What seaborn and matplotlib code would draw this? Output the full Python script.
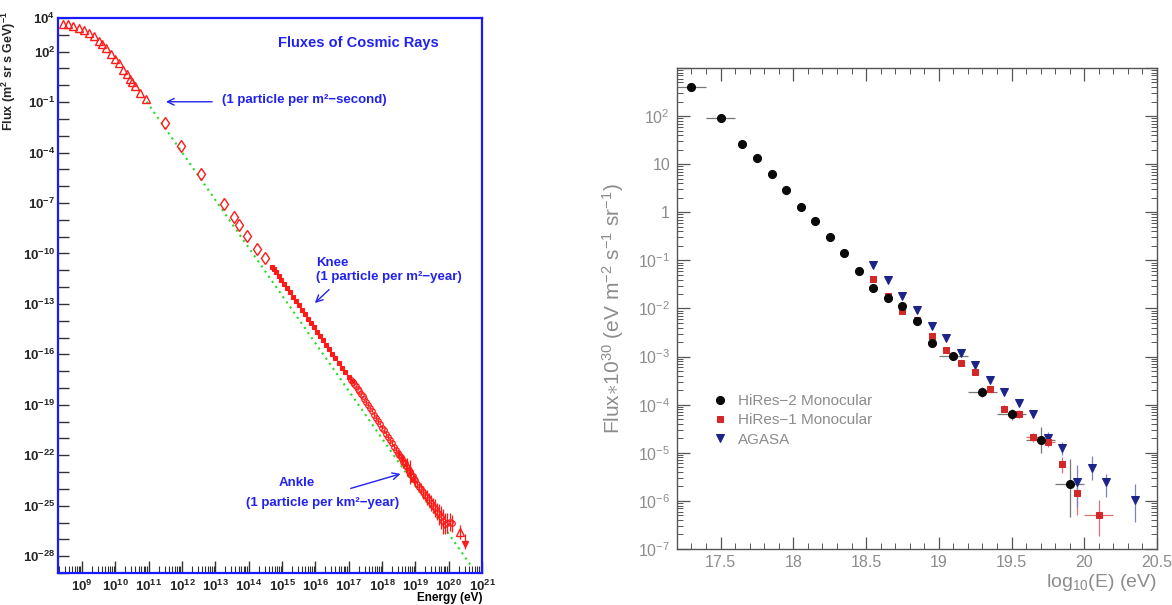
import numpy as np
import matplotlib
matplotlib.use('Agg')
import matplotlib.pyplot as plt
import matplotlib.ticker as mticker
import seaborn as sns

# ---------- left panel: all-particle spectrum, values as log10 ----------
tri_logE = [8.44, 8.59, 8.74, 8.91, 9.06, 9.21, 9.37, 9.51, 9.61, 9.72,
            9.87, 9.99, 10.11, 10.24, 10.34, 10.44, 10.51, 10.59, 10.74, 10.91]
tri_logF = [3.63, 3.63, 3.54, 3.42, 3.29, 3.13, 2.95, 2.63, 2.43, 2.20,
            1.84, 1.56, 1.30, 0.90, 0.67, 0.37, 0.17, -0.05, -0.45, -0.84]

dia_logE = [11.49, 11.97, 12.57, 13.26, 13.57, 13.72, 13.96, 14.26, 14.50]
dia_logF = [-2.27, -3.62, -5.29, -7.09, -7.83, -8.32, -8.98, -9.71, -10.30]

knee_logE = [14.70, 14.76, 14.82, 14.90, 14.98, 15.06, 15.15, 15.24, 15.33, 15.42,
             15.51, 15.60, 15.69, 15.78, 15.87, 15.96, 16.05, 16.14, 16.23, 16.32,
             16.41, 16.50, 16.60, 16.70, 16.80, 16.90, 17.00, 17.10]
knee_logF = [-10.80, -10.95, -11.12, -11.35, -11.57, -11.80, -12.06, -12.31, -12.57, -12.83,
             -13.08, -13.35, -13.60, -13.87, -14.13, -14.39, -14.65, -14.91, -15.17, -15.43,
             -15.69, -15.95, -16.23, -16.52, -16.80, -17.05, -17.33, -17.60]

uhe_logE = [17.08, 17.12, 17.17, 17.22, 17.27, 17.32, 17.37, 17.42, 17.47, 17.52,
            17.58, 17.64, 17.70, 17.76, 17.82, 17.88, 17.94, 18.00, 18.06, 18.12,
            18.18, 18.24, 18.30, 18.36, 18.42, 18.48, 18.52, 18.56, 18.60, 18.64,
            18.68, 18.72, 18.76, 18.80, 18.84, 18.88, 18.92, 18.96, 19.00, 19.06,
            19.12, 19.18, 19.24, 19.30, 19.36, 19.42, 19.48, 19.54, 19.60, 19.66,
            19.72, 19.78, 19.84, 19.90, 19.96, 20.04, 20.10]
uhe_logF = [-17.50, -17.62, -17.78, -17.90, -18.06, -18.20, -18.36, -18.50, -18.68, -18.82,
            -19.02, -19.20, -19.38, -19.58, -19.76, -19.96, -20.14, -20.36, -20.52, -20.74,
            -20.90, -21.12, -21.30, -21.50, -21.66, -21.88, -21.96, -22.12, -22.22, -22.40,
            -22.46, -22.64, -22.70, -22.90, -22.98, -23.16, -23.22, -23.42, -23.50, -23.70,
            -23.86, -24.02, -24.20, -24.36, -24.50, -24.66, -24.84, -25.00, -25.14, -25.36,
            -25.52, -25.70, -25.92, -26.06, -26.02, -25.98, -26.04]
uhe_err = [0.04, 0.04, 0.04, 0.04, 0.05, 0.05, 0.05, 0.05, 0.05, 0.05,
           0.06, 0.06, 0.06, 0.07, 0.07, 0.07, 0.08, 0.08, 0.09, 0.10,
           0.10, 0.12, 0.12, 0.15, 0.15, 0.18, 0.20, 0.25, 0.30, 0.35,
           0.20, 0.40, 0.55, 0.30, 0.70, 0.45, 0.35, 0.25, 0.30, 0.25,
           0.30, 0.35, 0.40, 0.35, 0.45, 0.40, 0.50, 0.45, 0.55, 0.50,
           0.60, 0.70, 0.75, 0.65, 0.60, 0.55, 0.50]

last_tri_logE, last_tri_logF, last_tri_err = [20.35], [-26.56], [0.40]
limit_logE, limit_logF, limit_lo, limit_hi = [20.50], [-27.25], [0.35], [0.55]

fit_logE = [10.94, 20.70]
fit_logF = [-0.98, -28.66]

# ---------- right panel: UHECR flux x 1e30 (log10 flux) ----------
hr2_logE = [17.30, 17.50, 17.65, 17.75, 17.85, 17.95, 18.05, 18.15, 18.25, 18.35,
            18.45, 18.55, 18.65, 18.75, 18.85, 18.95, 19.10, 19.30, 19.50, 19.70, 19.90]
hr2_logF = [2.60, 1.96, 1.43, 1.13, 0.80, 0.47, 0.12, -0.19, -0.52, -0.84,
            -1.23, -1.57, -1.79, -1.95, -2.26, -2.71, -2.98, -3.73, -4.20, -4.74, -5.64]
hr2_xerr = [0.10, 0.10, 0, 0, 0, 0, 0, 0, 0, 0,
            0, 0, 0, 0, 0, 0, 0.10, 0.10, 0.10, 0.10, 0.10]
hr2_lo = [0, 0, 0, 0, 0, 0, 0, 0, 0, 0,
          0, 0, 0, 0, 0, 0.05, 0.06, 0.10, 0.12, 0.27, 0.69]
hr2_hi = [0, 0, 0, 0, 0, 0, 0, 0, 0, 0,
          0, 0, 0, 0, 0, 0.05, 0.06, 0.10, 0.12, 0.27, 0.51]

hr1_logE = [18.55, 18.65, 18.75, 18.85, 18.95, 19.05, 19.15, 19.25, 19.35, 19.45,
            19.55, 19.65, 19.75, 19.85, 19.95, 20.10]
hr1_logF = [-1.38, -1.74, -2.05, -2.24, -2.58, -2.86, -3.13, -3.32, -3.67, -4.08,
            -4.19, -4.68, -4.77, -5.24, -5.84, -6.30]
hr1_xerr = [0, 0, 0, 0, 0, 0, 0, 0, 0, 0, 0, 0.05, 0.05, 0, 0, 0.10]
hr1_lo = [0.03, 0.03, 0.03, 0.03, 0.04, 0.04, 0.05, 0.05, 0.06, 0.07,
          0.08, 0.10, 0.12, 0.18, 0.45, 0.44]
hr1_hi = [0.03, 0.03, 0.03, 0.03, 0.04, 0.04, 0.05, 0.05, 0.06, 0.07,
          0.08, 0.10, 0.12, 0.16, 0.27, 0.31]

ag_logE = [18.55, 18.65, 18.75, 18.85, 18.95, 19.05, 19.15, 19.25, 19.35, 19.45,
           19.55, 19.65, 19.75, 19.85, 19.95, 20.05, 20.15, 20.35]
ag_logF = [-1.09, -1.40, -1.73, -2.04, -2.36, -2.62, -2.93, -3.18, -3.48, -3.74,
           -3.96, -4.19, -4.69, -4.91, -5.60, -5.32, -5.61, -5.99]
ag_lo = [0.02, 0.02, 0.02, 0.03, 0.03, 0.03, 0.04, 0.05, 0.05, 0.06,
         0.07, 0.08, 0.12, 0.14, 0.52, 0.25, 0.31, 0.44]
ag_hi = [0.02, 0.02, 0.02, 0.03, 0.03, 0.03, 0.04, 0.05, 0.05, 0.06,
         0.07, 0.08, 0.12, 0.14, 0.34, 0.26, 0.17, 0.35]


def p10(a):
    return 10.0 ** np.asarray(a, dtype=float)


def log_err(logv, lo, hi):
    v = p10(logv)
    return [v - v / p10(lo), v * p10(hi) - v]


sns.set_theme(style='white')
plt.rcParams['font.family'] = ['Liberation Sans', 'DejaVu Sans']
plt.rcParams['mathtext.fontset'] = 'custom'
plt.rcParams['mathtext.rm'] = 'Liberation Sans'
plt.rcParams['mathtext.it'] = 'Liberation Sans:italic'
plt.rcParams['mathtext.bf'] = 'Liberation Sans:bold'

fig = plt.figure(figsize=(11.72, 6.05), dpi=100)
axL = fig.add_axes([0.0495, 0.0529, 0.3618, 0.9174])
axR = fig.add_axes([0.5776, 0.0926, 0.4096, 0.7950])

# ================= left panel =================
red = '#ff1a1a'
axL.set_xscale('log')
axL.set_yscale('log')

sns.lineplot(x=p10(fit_logE), y=p10(fit_logF), ax=axL, color='#22dd22',
             linestyle=(0, (1, 2.0)), linewidth=1.5, estimator=None, sort=False)
sns.lineplot(x=p10(tri_logE), y=p10(tri_logF), ax=axL, linestyle='', marker='^',
             markersize=6, mfc='none', mec=red, mew=1, color=red, estimator=None, sort=False)
sns.lineplot(x=p10(dia_logE), y=p10(dia_logF), ax=axL, linestyle='', marker='d',
             markersize=6, mfc='none', mec=red, mew=1, color=red, estimator=None, sort=False)
sns.lineplot(x=p10(knee_logE), y=p10(knee_logF), ax=axL, linestyle='', marker='s',
             markersize=3.5, mfc=red, mec=red, mew=0.8, color=red, estimator=None, sort=False)
axL.errorbar(p10(uhe_logE), p10(uhe_logF), yerr=log_err(uhe_logF, uhe_err, uhe_err),
             fmt='none', ecolor=red, elinewidth=0.9, capsize=0)
sns.lineplot(x=p10(uhe_logE), y=p10(uhe_logF), ax=axL, linestyle='', marker='o',
             markersize=4, mfc='none', mec=red, mew=0.9, color=red, estimator=None, sort=False)
axL.errorbar(p10(last_tri_logE), p10(last_tri_logF),
             yerr=log_err(last_tri_logF, last_tri_err, last_tri_err),
             fmt='^', ms=6, mfc='none', mec=red, ecolor=red, elinewidth=0.9, capsize=0)
axL.errorbar(p10(limit_logE), p10(limit_logF),
             yerr=log_err(limit_logF, limit_lo, limit_hi),
             fmt='v', ms=5, mfc=red, mec=red, ecolor=red, elinewidth=0.9, capsize=0)

axL.set_xlim(10 ** 8.28, 1e21)
axL.set_ylim(1e-29, 1e4)

axL.xaxis.set_major_locator(mticker.FixedLocator([10.0 ** k for k in range(9, 22)]))
axL.xaxis.set_major_formatter(mticker.FixedFormatter(
    [r'$\mathbf{10^{%d}}$' % k for k in range(9, 22)]))
axL.xaxis.set_minor_locator(mticker.LogLocator(base=10, subs=np.arange(2, 10), numticks=40))
axL.xaxis.set_minor_formatter(mticker.NullFormatter())

ydec = list(range(-29, 5))
ylab_at = [4, 2] + list(range(-1, -29, -3))
axL.yaxis.set_major_locator(mticker.FixedLocator([10.0 ** k for k in ydec]))
axL.yaxis.set_major_formatter(mticker.FixedFormatter(
    [r'$\mathbf{10^{%d}}$' % k if k in ylab_at else '' for k in ydec]))
axL.yaxis.set_minor_locator(mticker.NullLocator())

axL.tick_params(axis='both', which='both', direction='in', color='#333333',
                labelsize=9.5, bottom=True, left=True, top=False, right=False)
axL.tick_params(axis='x', which='major', length=9, width=1, pad=4)
axL.tick_params(axis='x', which='minor', length=5, width=0.8)
axL.tick_params(axis='y', which='major', length=8, width=1, pad=2)
for s in axL.spines.values():
    s.set_color('#1a1aff')
    s.set_linewidth(1.6)

axL.set_ylabel(r'$\mathbf{Flux\ (m^{2}\ sr\ s\ GeV)^{-1}}$', fontsize=9)
axL.yaxis.set_label_coords(-0.094, 0.905)
axL.text(1.0, -0.045, 'Energy (eV)', transform=axL.transAxes, ha='right', va='center',
         fontsize=8.5, fontweight='bold', color='black')

blue = '#2222ee'
axL.text(0.708, 0.955, 'Fluxes of Cosmic Rays', transform=axL.transAxes, ha='center',
         va='center', fontsize=10.5, fontweight='bold', color=blue)
axL.text(0.58, 0.852, '(1 particle per m²−second)', transform=axL.transAxes, ha='center',
         va='center', fontsize=9.5, fontweight='bold', color=blue)
axL.annotate('', xy=(0.248, 0.849), xytext=(0.37, 0.849), xycoords='axes fraction',
             arrowprops=dict(arrowstyle='->', color=blue, lw=1))
axL.text(0.608, 0.559, 'Knee', transform=axL.transAxes, ha='left', va='center',
         fontsize=9.5, fontweight='bold', color=blue)
axL.text(0.608, 0.533, '(1 particle per m²−year)', transform=axL.transAxes, ha='left',
         va='center', fontsize=9.5, fontweight='bold', color=blue)
axL.annotate('', xy=(0.601, 0.483), xytext=(0.644, 0.514), xycoords='axes fraction',
             arrowprops=dict(arrowstyle='->', color=blue, lw=1))
axL.text(0.564, 0.162, 'Ankle', transform=axL.transAxes, ha='center', va='center',
         fontsize=9.5, fontweight='bold', color=blue)
axL.text(0.623, 0.126, '(1 particle per km²−year)', transform=axL.transAxes, ha='center',
         va='center', fontsize=9.5, fontweight='bold', color=blue)
axL.annotate('', xy=(0.814, 0.180), xytext=(0.684, 0.151), xycoords='axes fraction',
             arrowprops=dict(arrowstyle='->', color=blue, lw=1))

# ================= right panel =================
grey = '#8c8c8c'
c_hr2, c_hr1, c_ag = '#0a0a0a', '#d42828', '#1c2488'
axR.set_yscale('log')

axR.errorbar(hr2_logE, p10(hr2_logF), xerr=hr2_xerr, yerr=log_err(hr2_logF, hr2_lo, hr2_hi),
             fmt='none', ecolor='#777777', elinewidth=0.9, capsize=0)
axR.errorbar(hr1_logE, p10(hr1_logF), xerr=hr1_xerr, yerr=log_err(hr1_logF, hr1_lo, hr1_hi),
             fmt='none', ecolor='#e07070', elinewidth=0.9, capsize=0)
axR.errorbar(ag_logE, p10(ag_logF), yerr=log_err(ag_logF, ag_lo, ag_hi),
             fmt='none', ecolor='#7a80c0', elinewidth=0.9, capsize=0)

sns.lineplot(x=ag_logE, y=p10(ag_logF), ax=axR, linestyle='', marker='v', markersize=5.5,
             mfc=c_ag, mec=c_ag, color=c_ag, estimator=None, sort=False, label='AGASA')
sns.lineplot(x=hr1_logE, y=p10(hr1_logF), ax=axR, linestyle='', marker='s', markersize=5,
             mfc=c_hr1, mec=c_hr1, color=c_hr1, estimator=None, sort=False,
             label='HiRes−1 Monocular')
sns.lineplot(x=hr2_logE, y=p10(hr2_logF), ax=axR, linestyle='', marker='o', markersize=5.8,
             mfc=c_hr2, mec=c_hr2, color=c_hr2, estimator=None, sort=False,
             label='HiRes−2 Monocular')

axR.set_xlim(17.2, 20.5)
axR.set_ylim(1e-7, 1e3)
axR.xaxis.set_major_locator(mticker.MultipleLocator(0.5))
axR.xaxis.set_minor_locator(mticker.MultipleLocator(0.1))
axR.xaxis.set_major_formatter(mticker.FormatStrFormatter('%g'))

ylabs = {2: r'$10^{2}$', 1: '10', 0: '1'}
rdec = list(range(-7, 4))
axR.yaxis.set_major_locator(mticker.FixedLocator([10.0 ** k for k in rdec]))
axR.yaxis.set_major_formatter(mticker.FixedFormatter(
    [ylabs.get(k, r'$10^{%d}$' % k) if k < 3 else '' for k in rdec]))
axR.yaxis.set_minor_locator(mticker.LogLocator(base=10, subs=np.arange(2, 10), numticks=40))
axR.yaxis.set_minor_formatter(mticker.NullFormatter())

axR.tick_params(axis='both', which='both', direction='in', color='#555555',
                labelcolor=grey, labelsize=11.5, top=True, right=True, bottom=True, left=True)
axR.tick_params(which='major', length=9, width=0.9)
axR.tick_params(axis='y', which='major', pad=5)
axR.tick_params(axis='x', which='major', pad=4)
axR.tick_params(which='minor', length=4, width=0.7)
for s in axR.spines.values():
    s.set_color('#555555')
    s.set_linewidth(1.0)

axR.set_ylabel(r'Flux$\ast$10$^{30}$ (eV m$^{-2}$ s$^{-1}$ sr$^{-1}$)', fontsize=15,
               color=grey)
axR.yaxis.set_label_coords(-0.106, 0.5)
axR.text(1.0, -0.069, r'log$_{10}$(E) (eV)', transform=axR.transAxes, ha='right',
         va='center', fontsize=14, color=grey)

h, l = axR.get_legend_handles_labels()
order = [2, 1, 0]
leg = axR.legend([h[i] for i in order], [l[i] for i in order], loc='upper left',
                 bbox_to_anchor=(0.06, 0.335), frameon=False, fontsize=11,
                 handlelength=1.0, handletextpad=0.7, labelspacing=0.35, borderaxespad=0)
for t in leg.get_texts():
    t.set_color(grey)

fig.savefig('out.png', dpi=100)
